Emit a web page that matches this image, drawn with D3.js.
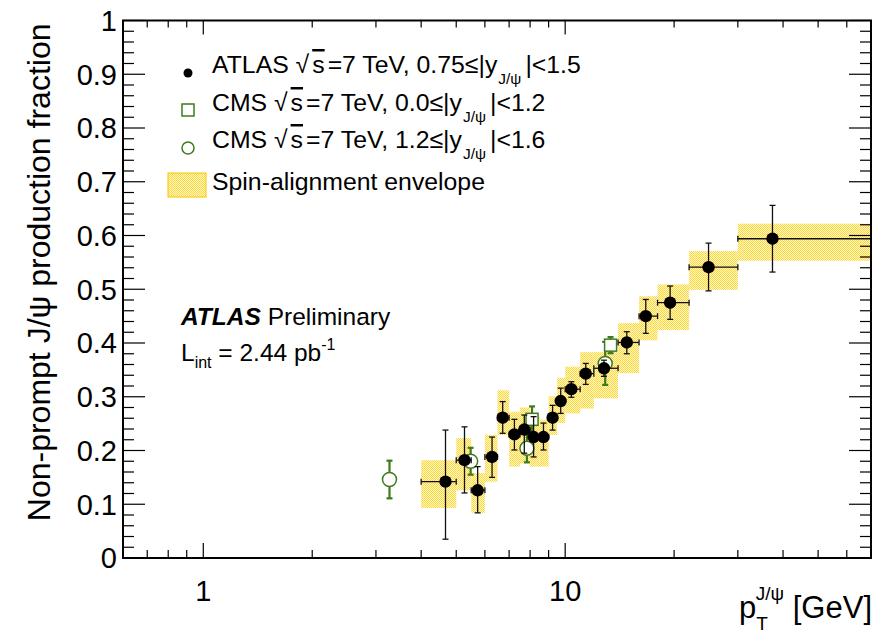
<html>
<head>
<meta charset="utf-8">
<title>Non-prompt J/psi fraction</title>
<script src="https://d3js.org/d3.v7.min.js"></script>
<style>
  body { margin: 0; background: #fff; }
  text { font-family: "Liberation Sans", Arial, Helvetica, sans-serif; fill: #000; }
</style>
</head>
<body>
<div id="chart"></div>
<script>
// ATLAS, 0.75<=|y|<1.5
const atlasPt     = [4.67, 5.27, 5.73, 6.28, 6.72, 7.24, 7.71, 8.18, 8.71, 9.23, 9.72, 10.4, 11.4, 12.8, 14.8, 16.7, 19.5, 24.9, 37.4];
const atlasBinLo  = [4, 5, 5.5, 6, 6.5, 7, 7.5, 8, 8.5, 9, 9.5, 10, 11, 12, 14, 16, 18, 22, 30];
const atlasBinHi  = [5, 5.5, 6, 6.5, 7, 7.5, 8, 8.5, 9, 9.5, 10, 11, 12, 14, 16, 18, 22, 30, 70];
const atlasFrac   = [0.142, 0.182, 0.126, 0.188, 0.261, 0.230, 0.239, 0.225, 0.225, 0.261, 0.292, 0.314, 0.343, 0.353, 0.401, 0.450, 0.475, 0.541, 0.594];
const atlasErrUp  = [0.096, 0.062, 0.044, 0.037, 0.030, 0.028, 0.027, 0.038, 0.026, 0.023, 0.024, 0.014, 0.019, 0.015, 0.020, 0.031, 0.031, 0.045, 0.062];
const atlasErrDn  = [0.107, 0.061, 0.042, 0.038, 0.029, 0.029, 0.044, 0.037, 0.024, 0.023, 0.023, 0.015, 0.020, 0.015, 0.021, 0.032, 0.031, 0.044, 0.062];
// spin-alignment envelope per ATLAS bin
const envLo = [0.093, 0.126, 0.084, 0.142, 0.229, 0.170, 0.176, 0.170, 0.170, 0.229, 0.251, 0.269, 0.278, 0.297, 0.344, 0.405, 0.424, 0.499, 0.553];
const envHi = [0.182, 0.223, 0.158, 0.229, 0.312, 0.272, 0.280, 0.263, 0.257, 0.301, 0.335, 0.356, 0.383, 0.383, 0.437, 0.487, 0.509, 0.571, 0.622];

// CMS 0.0<=|y|<1.2 (squares)
const cmsSqPt   = [8.10, 13.35];
const cmsSqFrac = [0.258, 0.396];
const cmsSqErr  = [0.024, 0.015];
// CMS 1.2<=|y|<1.6 (circles)
const cmsCiPt   = [3.27, 5.48, 7.84, 12.9];
const cmsCiFrac = [0.146, 0.180, 0.204, 0.362];
const cmsCiErr  = [0.035, 0.025, 0.026, 0.040];

const yTickLabels = ["0", "0.1", "0.2", "0.3", "0.4", "0.5", "0.6", "0.7", "0.8", "0.9", "1"];
const xTickLabels = [[1, "1"], [10, "10"]];

const W = 876, H = 634;
const mLeft = 123, mRight = 871, mTop = 20.5, mBottom = 558;
const green = "#3f7a1c";

const x = d3.scaleLog().domain([0.6, 70]).range([mLeft, mRight]);
const y = d3.scaleLinear().domain([0, 1]).range([mBottom, mTop]);

const svg = d3.select("#chart").append("svg")
  .attr("width", W).attr("height", H);

// checkered yellow fill
const defs = svg.append("defs");
const pat = defs.append("pattern").attr("id", "env")
  .attr("width", 2).attr("height", 2).attr("patternUnits", "userSpaceOnUse");
pat.append("rect").attr("width", 2).attr("height", 2).attr("fill", "#fff8d2");
pat.append("rect").attr("width", 1).attr("height", 1).attr("fill", "#ffd733");
pat.append("rect").attr("x", 1).attr("y", 1).attr("width", 1).attr("height", 1).attr("fill", "#ffd733");

defs.append("clipPath").attr("id", "frame")
  .append("rect").attr("x", mLeft).attr("y", mTop).attr("width", mRight - mLeft).attr("height", mBottom - mTop);

const atlas = atlasPt.map((pt, i) => ({
  pt, lo: atlasBinLo[i], hi: atlasBinHi[i], f: atlasFrac[i],
  up: atlasErrUp[i], dn: atlasErrDn[i], eLo: envLo[i], eHi: envHi[i]
}));

const plot = svg.append("g").attr("clip-path", "url(#frame)");

// envelope
plot.selectAll(".env").data(atlas).enter().append("rect")
  .attr("x", d => x(d.lo))
  .attr("width", d => x(d.hi) - x(d.lo))
  .attr("y", d => y(d.eHi))
  .attr("height", d => y(d.eLo) - y(d.eHi))
  .attr("fill", "url(#env)");

// error bars helper
function errBars(g, data, color, width, withX) {
  const cap = 3;
  data.forEach(d => {
    const cx = x(d.pt), cy = y(d.f);
    const y1 = y(d.f + d.up), y2 = y(d.f - d.dn);
    g.append("line").attr("x1", cx).attr("x2", cx).attr("y1", y1).attr("y2", y2)
      .attr("stroke", color).attr("stroke-width", width);
    [y1, y2].forEach(v => g.append("line").attr("x1", cx - cap).attr("x2", cx + cap)
      .attr("y1", v).attr("y2", v).attr("stroke", color).attr("stroke-width", width));
    if (withX) {
      const x1 = x(d.lo), x2 = Math.min(x(d.hi), mRight);
      g.append("line").attr("x1", x1).attr("x2", x2).attr("y1", cy).attr("y2", cy)
        .attr("stroke", color).attr("stroke-width", width);
      [x1, x2].forEach(v => g.append("line").attr("x1", v).attr("x2", v)
        .attr("y1", cy - cap).attr("y2", cy + cap).attr("stroke", color).attr("stroke-width", width));
    }
  });
}

const cmsSq = cmsSqPt.map((pt, i) => ({ pt, f: cmsSqFrac[i], up: cmsSqErr[i], dn: cmsSqErr[i] }));
const cmsCi = cmsCiPt.map((pt, i) => ({ pt, f: cmsCiFrac[i], up: cmsCiErr[i], dn: cmsCiErr[i] }));

const bars = plot.append("g");
errBars(bars, cmsSq, green, 2.2, false);
errBars(bars, cmsCi, green, 2.2, false);

bars.selectAll(".sq").data(cmsSq).enter().append("rect")
  .attr("x", d => x(d.pt) - 6).attr("y", d => y(d.f) - 6)
  .attr("width", 12).attr("height", 12)
  .attr("fill", "#fff").attr("stroke", green).attr("stroke-width", 1.5);
bars.selectAll(".ci").data(cmsCi).enter().append("circle")
  .attr("cx", d => x(d.pt)).attr("cy", d => y(d.f)).attr("r", 7)
  .attr("fill", "#fff").attr("stroke", green).attr("stroke-width", 1.5);

const abars = plot.append("g");
errBars(abars, atlas, "#111", 1.3, true);
abars.selectAll(".dot").data(atlas).enter().append("circle")
  .attr("cx", d => x(d.pt)).attr("cy", d => y(d.f)).attr("r", 6.2)
  .attr("fill", "#000");

// frame & ticks
const axes = svg.append("g").attr("stroke", "#000");
axes.append("rect").attr("x", mLeft).attr("y", mTop)
  .attr("width", mRight - mLeft).attr("height", mBottom - mTop)
  .attr("fill", "none").attr("stroke-width", 2);

const xt = x.ticks();
xt.forEach(t => {
  const major = Math.abs(Math.log10(t) - Math.round(Math.log10(t))) < 1e-9;
  const len = major ? 15 : 8;
  axes.append("line").attr("x1", x(t)).attr("x2", x(t))
    .attr("y1", mBottom).attr("y2", mBottom - len).attr("stroke-width", 1.2);
  axes.append("line").attr("x1", x(t)).attr("x2", x(t))
    .attr("y1", mTop).attr("y2", mTop + (major ? 14 : 7)).attr("stroke-width", 1.2);
});

d3.range(0, 51).forEach(k => {
  const v = k * 0.02;
  const major = k % 5 === 0;
  const len = major ? 22 : 11;
  axes.append("line").attr("x1", mLeft).attr("x2", mLeft + len)
    .attr("y1", y(v)).attr("y2", y(v)).attr("stroke-width", 1.2);
  axes.append("line").attr("x1", mRight).attr("x2", mRight - len)
    .attr("y1", y(v)).attr("y2", y(v)).attr("stroke-width", 1.2);
});

svg.selectAll(".ylab").data(yTickLabels).enter().append("text")
  .attr("x", 117).attr("y", (d, i) => y(i / 10))
  .attr("dy", "0.36em").attr("text-anchor", "end")
  .attr("font-size", 29).text(d => d);

svg.selectAll(".xlab").data(xTickLabels).enter().append("text")
  .attr("x", d => x(d[0])).attr("y", 601)
  .attr("text-anchor", "middle").attr("font-size", 29).text(d => d[1]);

// axis titles
svg.append("text")
  .attr("transform", "translate(50," + (mTop + 3) + ") rotate(-90)")
  .attr("text-anchor", "end").attr("font-size", 32)
  .text("Non-prompt J/\u03c8 production fraction");

const xtitle = svg.append("text").attr("x", 872).attr("y", 618)
  .attr("text-anchor", "end").attr("font-size", 31);
xtitle.append("tspan").text("p");
xtitle.append("tspan").attr("dy", 12).attr("font-size", 19).text("T");
xtitle.append("tspan").attr("dy", -30).attr("dx", -12).attr("font-size", 19).text("J/\u03c8");
xtitle.append("tspan").attr("dy", 18).text(" [GeV]");

// legend
const legRows = [
  { y: 73, pre: "ATLAS ", range: "0.75\u2264|y", post: "|<1.5" },
  { y: 111, pre: "CMS ", range: "0.0\u2264|y", post: "|<1.2" },
  { y: 148, pre: "CMS ", range: "1.2\u2264|y", post: "|<1.6" }
];
const legFs = 24.8;
legRows.forEach(r => {
  const t = svg.append("text").attr("x", 212).attr("y", r.y).attr("font-size", legFs);
  t.append("tspan").text(r.pre + "\u221a");
  t.append("tspan").attr("dx", 3).style("text-decoration", "overline").text("s");
  t.append("tspan").attr("dx", 3).text("=7 TeV, " + r.range);
  t.append("tspan").attr("dy", 11).attr("dx", 1).attr("font-size", 15.5).text("J/\u03c8");
  t.append("tspan").attr("dy", -11).attr("dx", 4).text(r.post);
});
svg.append("circle").attr("cx", 188).attr("cy", 73).attr("r", 4.5).attr("fill", "#000");
svg.append("rect").attr("x", 182).attr("y", 104).attr("width", 12).attr("height", 12)
  .attr("fill", "none").attr("stroke", green).attr("stroke-width", 1.5);
svg.append("circle").attr("cx", 188).attr("cy", 148).attr("r", 6)
  .attr("fill", "none").attr("stroke", green).attr("stroke-width", 1.5);
svg.append("rect").attr("x", 168).attr("y", 173).attr("width", 38).attr("height", 24)
  .attr("fill", "url(#env)").attr("stroke", "#f5c800").attr("stroke-width", 1);
svg.append("text").attr("x", 212).attr("y", 190).attr("font-size", legFs)
  .text("Spin-alignment envelope");

// labels
const atl = svg.append("text").attr("x", 181).attr("y", 325).attr("font-size", 24.5);
atl.append("tspan").attr("font-weight", "bold").attr("font-style", "italic").text("ATLAS");
atl.append("tspan").text(" Preliminary");

const lum = svg.append("text").attr("x", 181).attr("y", 361).attr("font-size", 24.5);
lum.append("tspan").text("L");
lum.append("tspan").attr("dy", 7).attr("font-size", 16).text("int");
lum.append("tspan").attr("dy", -7).text(" = 2.44 pb");
lum.append("tspan").attr("dy", -11).attr("font-size", 16).text("-1");
</script>
</body>
</html>
